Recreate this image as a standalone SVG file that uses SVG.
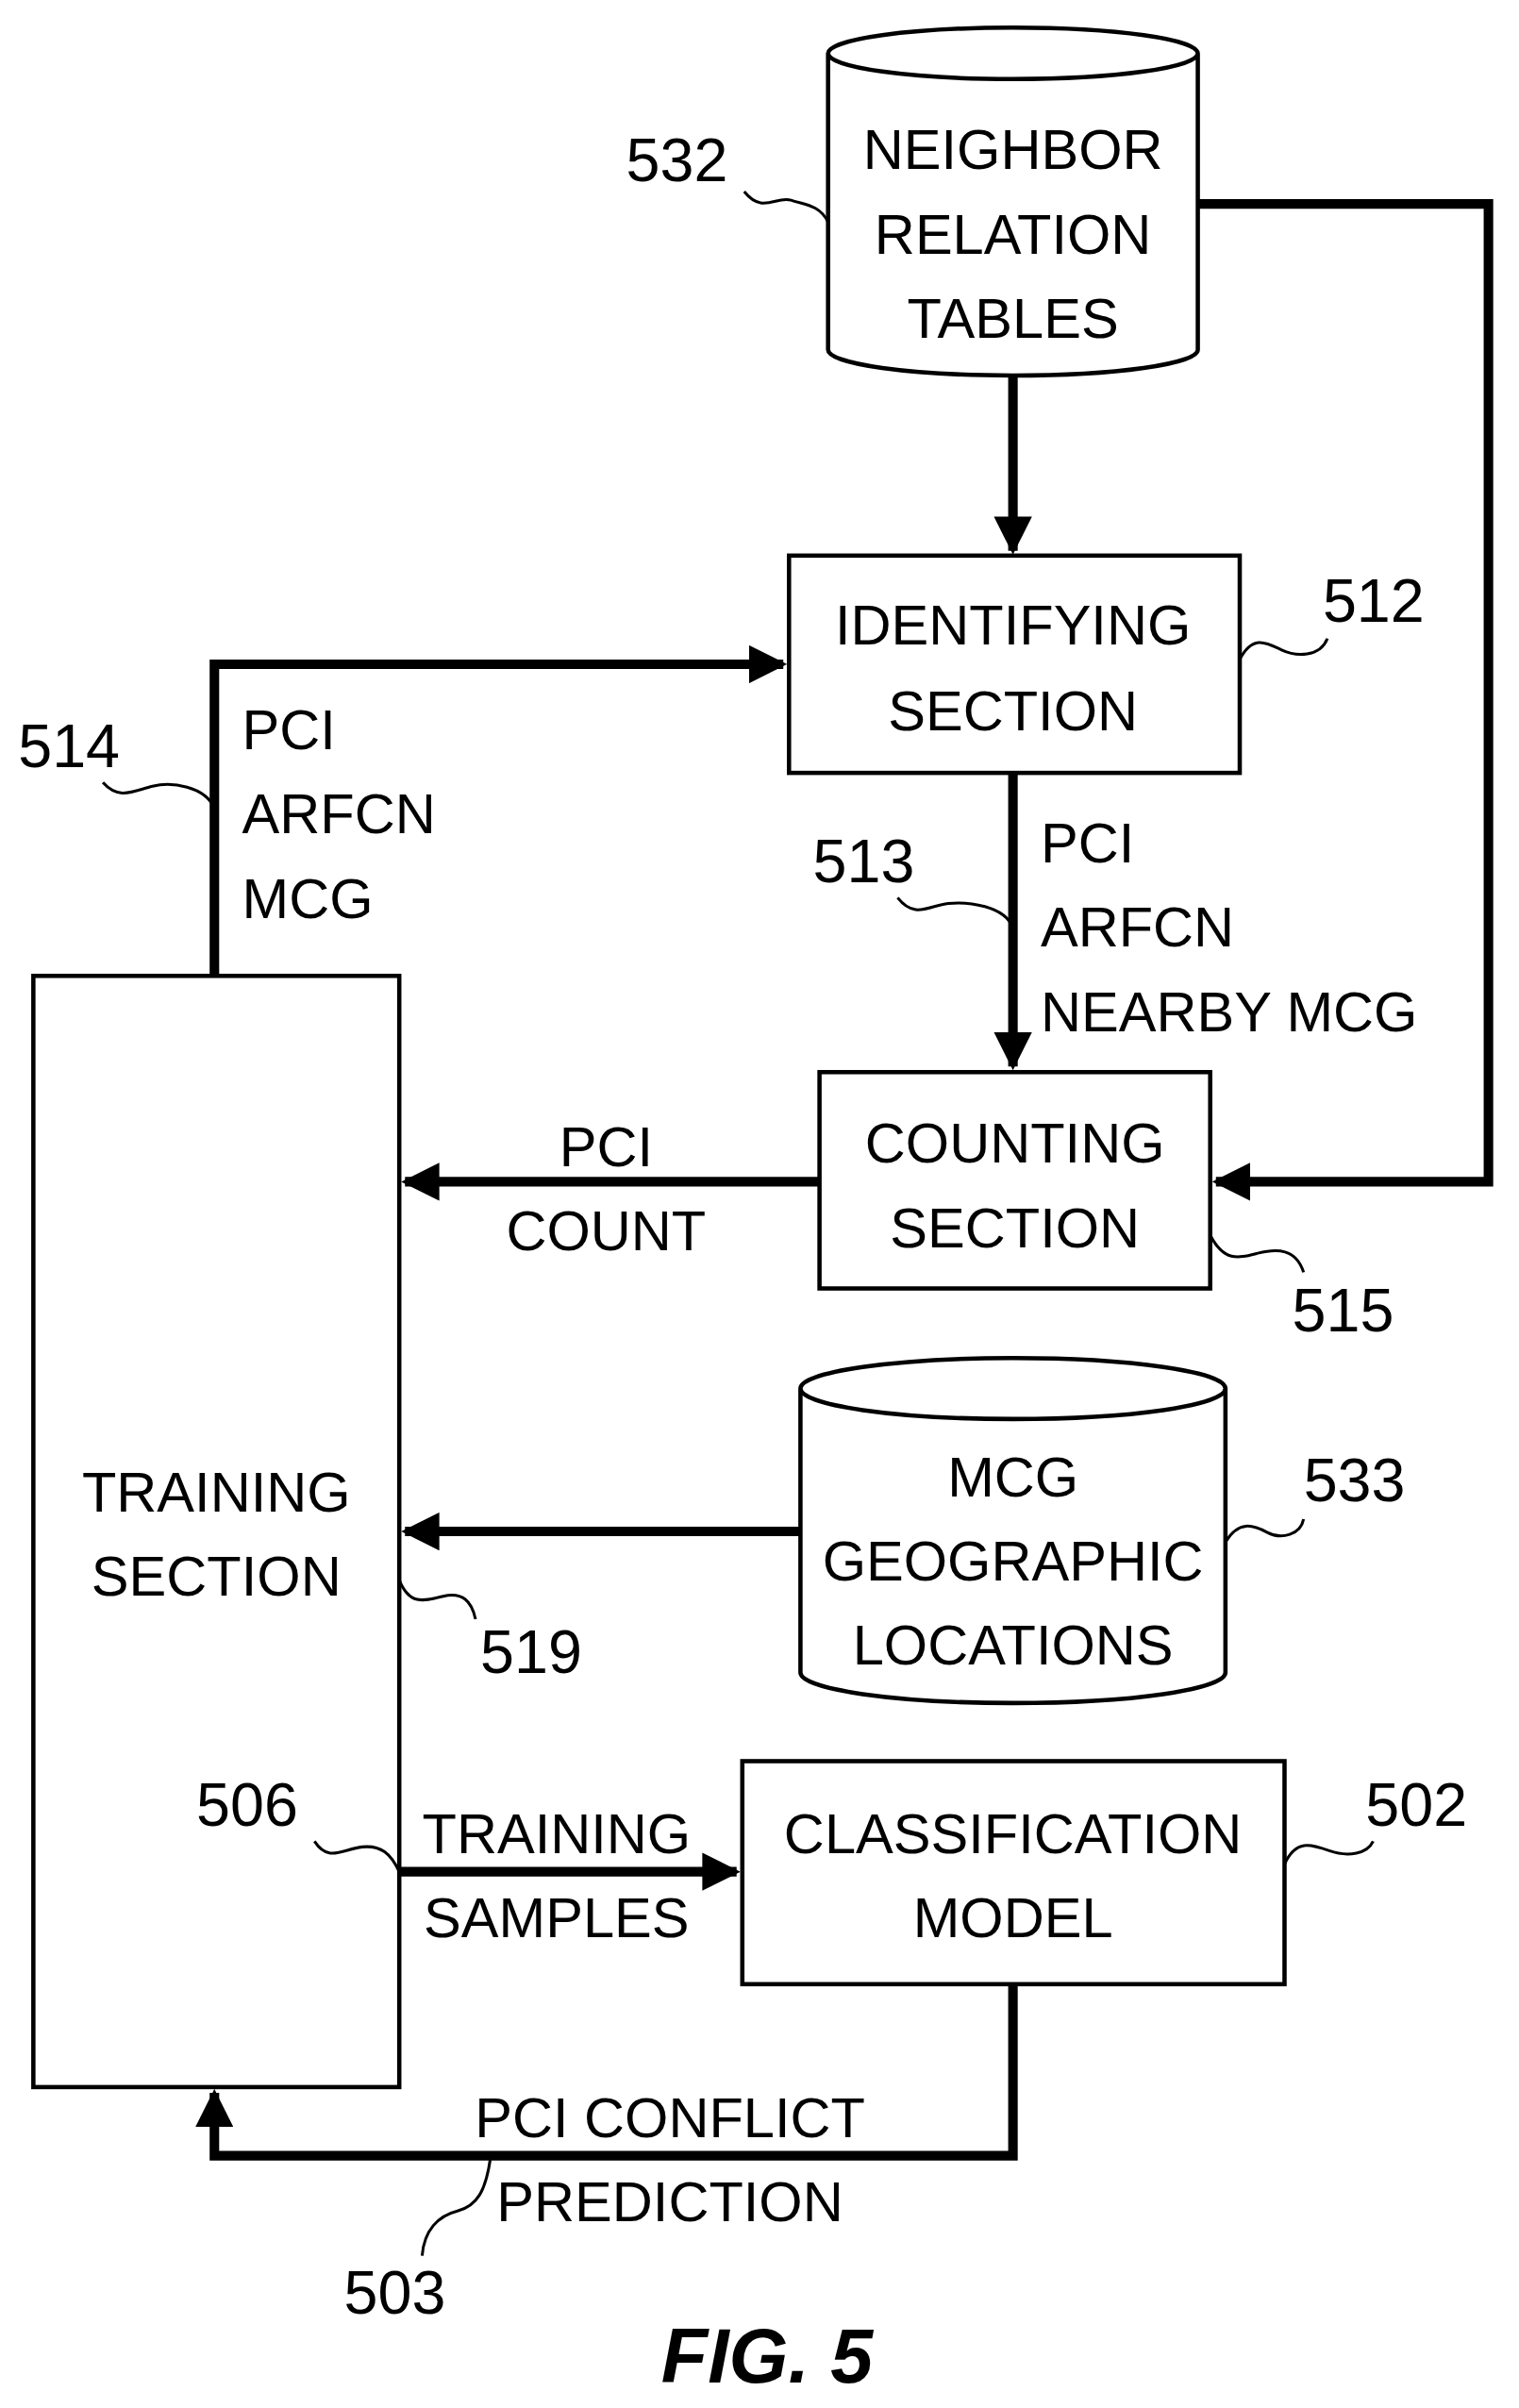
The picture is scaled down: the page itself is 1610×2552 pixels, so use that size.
<svg xmlns="http://www.w3.org/2000/svg" width="1610" height="2552" viewBox="0 0 1610 2552">
<style>
text{font-family:"Liberation Sans",Arial,sans-serif;font-size:59px;fill:#000}
.c{text-anchor:middle}
.n{font-size:64px}
.box{fill:#fff;stroke:#000;stroke-width:4.5}
.sq{fill:none;stroke:#000;stroke-width:3}
.ln{fill:none;stroke:#000;stroke-width:10}
</style>
<defs>
<marker id="ah" viewBox="0 0 10 10" refX="9" refY="5" markerWidth="4" markerHeight="4" orient="auto" markerUnits="strokeWidth">
<path d="M0,0L10,5L0,10z" fill="#000"/>
</marker>
</defs>
<g transform="scale(1.01)">
<g id="connectors">
<path class="ln" d="M1063,394V578" marker-end="url(#ah)"/>
<path class="ln" d="M1257,214H1562V1240H1276" marker-end="url(#ah)"/>
<path class="ln" d="M225,1024V697H822" marker-end="url(#ah)"/>
<path class="ln" d="M1063,811V1119" marker-end="url(#ah)"/>
<path class="ln" d="M860,1240H425" marker-end="url(#ah)"/>
<path class="ln" d="M840,1607H425" marker-end="url(#ah)"/>
<path class="ln" d="M419,1964H773" marker-end="url(#ah)"/>
<path class="ln" d="M1063,2082V2262H225V2196" marker-end="url(#ah)"/>
<text x="254" y="786">PCI</text>
<text x="254" y="874">ARFCN</text>
<text x="254" y="963">MCG</text>
<text x="1092" y="905">PCI</text>
<text x="1092" y="993">ARFCN</text>
<text x="1092" y="1082">NEARBY MCG</text>
<text class="c" x="636" y="1224">PCI</text>
<text class="c" x="636" y="1312">COUNT</text>
<text class="c" x="584" y="1945">TRAINING</text>
<text class="c" x="584" y="2033">SAMPLES</text>
<text class="c" x="703" y="2243">PCI CONFLICT</text>
<text class="c" x="703" y="2331">PREDICTION</text>
</g>
<g id="n532">
<path class="box" d="M869,56V367A194,27 0 0 0 1257,367V56A194,27 0 0 0 869,56A194,27 0 0 0 1257,56"/>
<text class="c" x="1063" y="177">NEIGHBOR</text>
<text class="c" x="1063" y="266">RELATION</text>
<text class="c" x="1063" y="354">TABLES</text>
<text class="n" x="657" y="190">532</text>
<path class="sq" d="M781,201C800,225 815,205 830,210S860,215 869,233"/>
</g>
<g id="n512">
<rect class="box" x="828" y="583" width="473" height="228"/>
<text class="c" x="1063" y="676">IDENTIFYING</text>
<text class="c" x="1063" y="766">SECTION</text>
<text class="n" x="1388" y="652">512</text>
<path class="sq" d="M1301,692C1315,665 1330,675 1345,682S1385,690 1393,670"/>
</g>
<g id="n514">
<text class="n" x="19" y="805">514</text>
<path class="sq" d="M108,821C125,840 140,830 160,825S215,825 225,848"/>
</g>
<g id="n513">
<text class="n" x="853" y="926">513</text>
<path class="sq" d="M942,942C960,965 975,950 995,948S1055,950 1063,974"/>
</g>
<g id="n515">
<rect class="box" x="860" y="1125" width="410" height="227"/>
<text class="c" x="1065" y="1220">COUNTING</text>
<text class="c" x="1065" y="1309">SECTION</text>
<text class="n" x="1356" y="1397">515</text>
<path class="sq" d="M1270,1296C1285,1325 1300,1320 1320,1315S1360,1310 1368,1335"/>
</g>
<g id="n516">
<text class="n" x="206" y="1191">516</text>
<path class="sq" d="M330,1207C345,1230 360,1215 380,1213S410,1220 419,1240"/>
</g>
<g id="n519">
<rect class="box" x="35" y="1024" width="384" height="1166"/>
<text class="c" x="227" y="1586">TRAINING</text>
<text class="c" x="227" y="1674">SECTION</text>
<text class="n" x="504" y="1755">519</text>
<path class="sq" d="M419,1658C430,1685 445,1680 465,1675S495,1680 499,1699"/>
</g>
<g id="n533">
<path class="box" d="M840,1457V1755A223,32 0 0 0 1286,1755V1457A223,32 0 0 0 840,1457A223,32 0 0 0 1286,1457"/>
<text class="c" x="1063" y="1570">MCG</text>
<text class="c" x="1063" y="1658">GEOGRAPHIC</text>
<text class="c" x="1063" y="1747">LOCATIONS</text>
<text class="n" x="1368" y="1575">533</text>
<path class="sq" d="M1286,1618C1300,1595 1315,1600 1330,1608S1365,1610 1368,1594"/>
</g>
<g id="n502">
<rect class="box" x="779" y="1848" width="569" height="234"/>
<text class="c" x="1063" y="1945">CLASSIFICATION</text>
<text class="c" x="1063" y="2033">MODEL</text>
<text class="n" x="1433" y="1916">502</text>
<path class="sq" d="M1348,1956C1360,1930 1375,1935 1395,1942S1435,1945 1441,1932"/>
</g>
<g id="n506">
<text class="n" x="206" y="1916">506</text>
<path class="sq" d="M330,1932C345,1955 360,1940 380,1938S410,1945 419,1964"/>
</g>
<g id="n503">
<text class="n" x="361" y="2428">503</text>
<path class="sq" d="M515,2262C510,2300 500,2315 480,2320S445,2340 443,2367"/>
</g>
<text class="c" x="805" y="2500" style="font-size:80px;font-weight:bold;font-style:italic">FIG. 5</text>
</g>
</svg>
